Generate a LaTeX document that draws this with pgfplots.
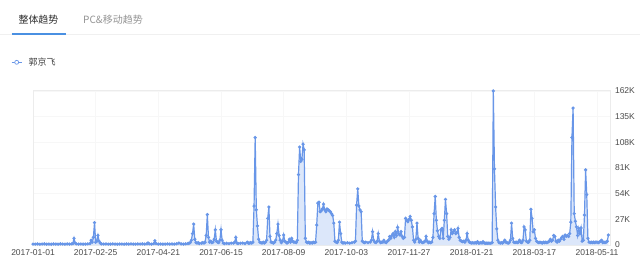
\documentclass[border=0pt]{standalone}
\usepackage{fontspec}
\setmainfont{Liberation Sans}
\newfontfamily\cjk{Noto Sans CJK SC}
\usepackage{pgfplots}
\usepackage{pgfplotstable}
\pgfplotsset{compat=1.18}
\definecolor{linec}{RGB}{104,150,232}
\definecolor{fillc}{RGB}{220,231,250}
\definecolor{tickc}{RGB}{75,75,75}
\definecolor{tabc}{RGB}{74,144,226}
\pgfplotstableread[row sep=\\]{
d v\\
0 1.0\\ 2 0.9\\ 4 1.1\\ 6 0.8\\ 8 1.0\\ 10 1.2\\ 12 0.9\\ 14 1.0\\ 16 0.8\\ 18 1.1\\ 20 1.0\\ 22 0.9\\ 24 1.2\\ 26 1.0\\ 28 0.9\\ 30 1.1\\ 32 1.0\\ 34 1.2\\ 35 1.5\\ 36 7\\ 37 2\\ 38 1.2\\ 40 1.0\\ 42 1.1\\ 44 0.9\\ 46 1.0\\ 48 1.2\\ 50 1.5\\
51 5\\ 52 3\\ 53 8\\ 54 23.5\\ 55 3\\ 56 4\\ 57 10\\ 58 4\\ 59 2\\ 60 1.2\\ 62 1.0\\ 64 1.1\\ 66 0.9\\ 68 1.0\\ 70 1.2\\ 72 1.0\\ 74 0.9\\ 76 1.1\\ 78 1.0\\ 80 0.9\\ 82 1.1\\ 84 1.0\\ 86 1.2\\ 88 1.0\\ 90 0.9\\ 92 1.1\\ 94 1.0\\ 96 1.2\\ 98 1.0\\ 100 1.3\\
101 2.2\\ 102 1.2\\ 104 1.0\\ 106 1.5\\ 107 4.5\\ 108 1.5\\ 110 1.0\\ 112 1.1\\ 114 0.9\\ 116 1.0\\ 118 1.2\\ 120 1.0\\ 122 1.1\\ 124 1.0\\ 126 1.3\\ 128 2\\ 130 1.2\\ 132 1.0\\ 134 1.2\\ 136 1.5\\ 137 2\\ 138 2.5\\ 139 5\\ 140 12\\ 141 22\\ 142 6\\ 143 2.5\\ 144 2\\ 145 2.5\\ 146 1.5\\ 148 2\\ 149 2.5\\ 150 2\\
151 3\\ 152 10\\ 153 32\\ 154 8\\ 155 3\\ 156 4\\ 157 2.5\\ 158 3\\ 159 6\\ 160 16\\ 161 4\\ 162 3\\ 163 2.5\\ 164 5\\ 165 16\\ 166 5\\ 167 2\\ 168 1.5\\ 170 1.8\\ 172 1.5\\ 174 2\\ 176 2\\ 177 3\\ 178 8\\ 179 2\\ 180 1.5\\ 182 1.8\\ 184 2\\ 186 1.5\\ 188 3\\ 189 2\\ 190 2\\
191 2.5\\ 192 2\\ 193 3\\ 194 41\\ 195 113\\ 196 37\\ 197 20\\ 198 6\\ 199 3\\ 200 2.5\\ 201 2\\ 202 3\\ 203 2\\ 204 3\\ 205 5\\ 206 28\\ 207 40\\ 208 9\\ 209 3\\ 210 2.5\\ 211 2\\ 212 3\\ 213 5\\ 214 12\\ 215 22\\ 216 10\\ 217 5\\ 218 2.5\\ 219 4\\ 220 10.5\\
221 4\\ 222 3\\ 223 2\\ 224 3\\ 225 6\\ 226 3\\ 227 7\\ 228 4\\ 229 3\\ 230 3\\ 231 2.5\\ 232 5\\ 233 74\\ 234 103\\ 235 88\\ 236 90\\ 237 106\\ 238 100\\ 239 7\\ 240 3\\ 241 2.5\\ 242 3\\ 243 2\\ 244 2.5\\ 245 2\\ 246 3\\ 247 2.5\\ 248 3\\ 249 21\\ 250 44\\
251 45\\ 252 35\\ 253 36\\ 254 38\\ 255 43\\ 256 37\\ 257 35\\ 258 38\\ 259 37\\ 260 36\\ 261 35\\ 262 33\\ 263 31\\ 264 23\\ 265 4\\ 266 3\\ 267 2.5\\ 268 5\\ 269 24\\ 270 12\\ 271 3\\ 272 2\\ 273 2.5\\ 274 2\\ 276 2.5\\ 278 2\\ 280 2.5\\
282 3\\ 283 4\\ 284 42\\ 285 59\\ 286 41\\ 287 37\\ 288 35\\ 289 4\\ 290 3\\ 291 2.5\\ 292 3\\ 294 2.5\\ 296 3\\ 297 5\\ 298 14\\ 299 5\\ 300 3\\ 301 2.5\\ 302 4\\ 303 12\\ 304 4\\ 305 2.5\\ 306 3\\ 307 3\\ 308 5\\ 309 3\\ 310 2.5\\
311 4\\ 312 5\\ 313 9\\ 314 7\\ 315 10\\ 316 12\\ 317 8\\ 318 14\\ 319 10\\ 320 18.5\\ 321 12\\ 322 10.5\\ 323 14\\ 324 9\\ 325 7\\ 326 8\\ 327 28\\ 328 26\\ 329 24.5\\ 330 27\\ 331 30\\ 332 26\\ 333 19\\ 334 5\\ 335 3\\ 336 6\\ 337 23\\ 338 7\\ 339 3\\ 340 5\\
341 3\\ 342 2.5\\ 343 3\\ 344 4\\ 345 9\\ 346 4\\ 347 2.5\\ 348 3\\ 349 2.5\\ 350 3\\ 351 8\\ 352 33\\ 353 51\\ 354 26\\ 355 15\\ 356 9\\ 357 7\\ 358 16\\ 359 17.5\\ 360 7\\ 361 26\\ 362 48\\ 363 33\\ 364 9\\ 365 6\\ 366 8\\ 367 16\\ 368 12\\ 369 14\\ 370 16\\
371 12\\ 372 13\\ 373 17.5\\ 374 8\\ 375 5\\ 376 4\\ 377 3.5\\ 378 4\\ 379 3\\ 380 5\\ 381 12\\ 382 5\\ 383 3\\ 384 2.5\\ 385 2\\ 386 2.5\\ 387 2\\ 388 2.5\\ 389 2\\ 390 3.5\\ 391 2\\ 392 2\\ 393 2.5\\ 394 2\\ 395 3.5\\ 396 2\\ 397 1.8\\ 398 2\\ 399 1.8\\ 400 2\\
401 1.8\\ 402 2\\ 403 2.5\\ 404 162\\ 405 80\\ 406 40\\ 407 17\\ 408 5\\ 409 2.5\\ 410 2\\ 411 2.5\\ 412 2\\ 413 3\\ 414 5\\ 415 3\\ 416 2.5\\ 417 2\\ 418 2.5\\ 419 5\\ 420 23\\ 421 7\\ 422 3\\ 423 2.5\\ 424 3\\ 425 2.5\\ 426 3\\ 427 5\\ 428 3\\ 429 2.5\\ 430 5\\
431 19\\ 432 16\\ 433 4\\ 434 3\\ 435 3\\ 436 5\\ 437 37.5\\ 438 28\\ 439 14\\ 440 16\\ 441 7\\ 442 4\\ 443 3\\ 444 2.5\\ 445 3\\ 446 2.5\\ 447 2\\ 448 3\\ 449 2.5\\ 450 3\\ 451 2.5\\ 452 3\\ 453 4\\ 454 6\\ 455 4\\ 456 5\\ 457 10\\ 458 9\\ 459 4\\ 460 3\\
461 5\\ 462 4\\ 463 6\\ 464 8\\ 465 9\\ 466 6\\ 467 10.5\\ 468 9\\ 469 10\\ 470 9\\ 471 12\\ 472 24\\ 473 113\\ 474 144\\ 475 33\\ 476 25\\ 477 19\\ 478 10\\ 479 17.5\\ 480 12\\ 481 18\\ 482 4\\ 483 5\\ 484 31.5\\ 485 79\\ 486 53\\ 487 7\\ 488 3\\ 489 2.5\\ 490 3\\
491 2.5\\ 492 3\\ 493 2.5\\ 494 3\\ 495 3\\ 496 2.5\\ 497 3\\ 498 4\\ 499 5\\ 500 2.5\\ 501 3\\ 502 2.5\\ 503 3\\ 504 4\\ 505 10.5\\
}\datatable
\begin{document}
\begin{tikzpicture}[x=1pt,y=1pt]
\path[use as bounding box, fill=white] (0,0) rectangle (640,268);
\draw[gray!12, line width=0.6pt] (0,233.5) -- (640,233.5);
\draw[tabc, line width=2.6pt] (11.7,234) -- (65.7,234);
\node[font=\cjk\fontsize{10}{12}\selectfont, text=black!82] at (38.5,248) {整体趋势};
\node[font=\cjk\fontsize{10}{12}\selectfont, text=black!42] at (113,248) {PC\&移动趋势};
\draw[linec, line width=0.8pt] (11.7,205.7) -- (21.7,205.7);
\draw[linec, fill=white, line width=0.7pt] (16.7,205.7) circle (2);
\node[font=\cjk\fontsize{9}{11}\selectfont, text=black!75, anchor=west, inner sep=0pt] at (28.5,205.7) {郭京飞};
\begin{axis}[
  at={(33pt,23pt)}, anchor=south west, scale only axis,
  width=577pt, height=155pt,
  xmin=0, xmax=506.4, ymin=0, ymax=163,
  axis line style={draw=gray!15},
  major tick length=0pt,
  xtick={0,55,110,165,220,275,330,385,440,495},
  xticklabels={2017-01-01,2017-02-25,2017-04-21,2017-06-15,2017-08-09,2017-10-03,2017-11-27,2018-01-21,2018-03-17,2018-05-11},
  ytick={0,27,54,81,108,135,162},
  yticklabels={0,27K,54K,81K,108K,135K,162K},
  yticklabel pos=right,
  yticklabel style={anchor=west, xshift=1.5pt},
  xticklabel style={anchor=north, yshift=-1pt},
  tick label style={font=\fontsize{8.5}{10}\selectfont, text=tickc},
  grid=major, grid style={gray!6, line width=0.4pt},
  clip=false,
]
\addplot[fill=fillc, draw=none] table[x=d,y=v] {\datatable} \closedcycle;
\addplot[linec, line width=1.2pt, mark=*, mark size=0.95pt, mark options={fill=linec}] table[x=d,y=v] {\datatable};
\end{axis}
\end{tikzpicture}
\end{document}
